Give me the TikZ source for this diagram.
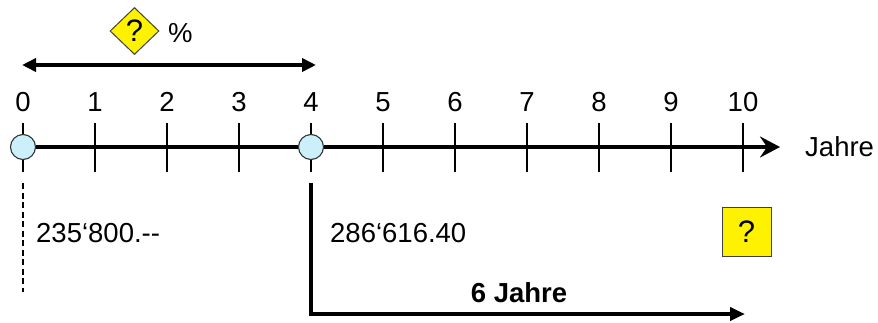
\documentclass[tikz,border=0pt]{standalone}
\usepackage{fontspec}
\setmainfont{Liberation Sans}
\usetikzlibrary{shapes.geometric,arrows.meta}
\newcommand{\qfont}{\fontsize{31}{33}\selectfont}
\begin{document}
\begin{tikzpicture}[x=1pt,y=-1pt,
  lbl/.style={font=\fontsize{27.5}{30}\selectfont, inner sep=0pt},
  tickline/.style={line width=1.5pt},
  pt/.style={circle, draw=black!80, fill=cyan!20!white, line width=1.1pt, minimum size=25pt, inner sep=0pt},
  qbox/.style={draw=black!75, fill=yellow, line width=1pt, inner sep=0pt},
  thickline/.style={line width=4.8pt}]
\useasboundingbox (0,0) rectangle (878,322);
% ticks
\foreach \i in {0,...,10} {
  \draw[tickline] (23+72*\i,123) -- (23+72*\i,172);
  \node[lbl] (n\i) at (23+72*\i,102) {\i};
}
\coordinate (axend) at (780,147);
\node[pt] (c0) at (23,147) {};
\node[pt] (c4) at (311,147) {};
\draw[thickline] (c0.east) -- (c4.west);
\draw[thickline, -{Stealth[length=20pt,width=21pt,inset=7pt]}] (c4.east) -- (axend);
\node[lbl, anchor=west] (jahre) at (805,147) {Jahre};
% top double arrow
\coordinate (ta) at (22,65);
\coordinate (tb) at (316,65);
\draw[line width=3.5pt, {Triangle[length=14pt,width=13pt]}-{Triangle[length=14pt,width=13pt]}] (ta) -- (tb);
\node[diamond, qbox, minimum width=49pt, minimum height=47pt] (dia) at (134.5,31) {\qfont ?};
\node[lbl, anchor=west] (pct) at (168,33) {\%};
% dashed
\coordinate (d1) at (23,183);
\coordinate (d2) at (23,292);
\draw[line width=2.4pt, dash pattern=on 6pt off 3.5pt] (d1) -- (d2);
\node[lbl, anchor=west] (v0) at (36,233) {235‘800.{-}{-}};
% L arrow
\coordinate (l1) at (311,183);
\coordinate (l2) at (311,314);
\coordinate (l3) at (745,314);
\draw[thickline, -{Triangle[length=15pt,width=13pt]}] (l1) -- (l2) -- (l3);
\node[lbl, anchor=west] (v4) at (330,233) {286‘616.40};
\node[lbl, font=\fontsize{27.5}{30}\selectfont\bfseries] (six) at (519,293) {6 Jahre};
\node[qbox, minimum width=49pt, minimum height=49pt] (q) at (746.5,231.5) {\qfont ?};
\end{tikzpicture}
\end{document}
